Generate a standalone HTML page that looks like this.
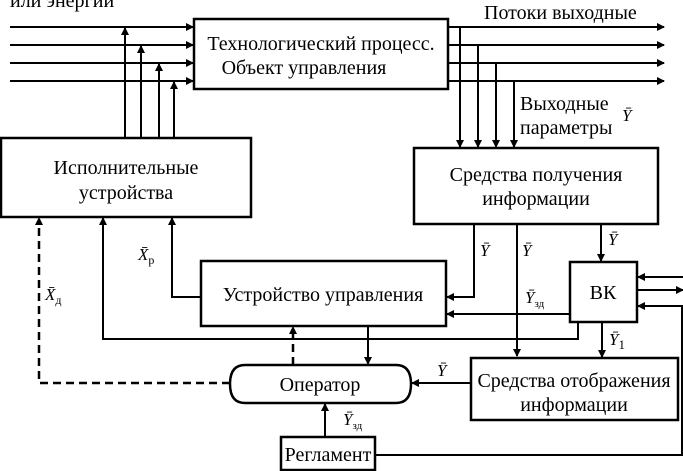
<!DOCTYPE html>
<html><head><meta charset="utf-8"><style>
html,body{margin:0;padding:0;background:#fff;}
svg{display:block;}
text{font-family:"Liberation Serif",serif;font-size:20px;fill:#000;}
.s{font-size:17px;font-style:italic;}
</style></head><body>
<svg width="683" height="471" viewBox="0 0 683 471">
<defs><marker id="a" markerWidth="8" markerHeight="8" refX="7" refY="4" orient="auto" markerUnits="userSpaceOnUse"><path d="M0,0 L8,4 L0,8 z" fill="#000"/></marker></defs>
<g stroke="#000" stroke-width="2.5" fill="none">
<rect x="194" y="19" width="254" height="70"/>
<rect x="1" y="138" width="250" height="79"/>
<rect x="414" y="148" width="244" height="76"/>
<rect x="201" y="261" width="245" height="65"/>
<rect x="570" y="262" width="67" height="60"/>
<rect x="471" y="358" width="207" height="62"/>
<rect x="281" y="437" width="94" height="33"/>
<path d="M245,365 H396 Q411,365 411,384 Q411,403 396,403 H245 Q230,403 230,384 Q230,365 245,365 Z"/>
</g>
<g stroke="#000" stroke-width="2" fill="none" marker-end="url(#a)">
<line x1="10" y1="27" x2="193" y2="27"/>
<line x1="10" y1="45" x2="193" y2="45"/>
<line x1="10" y1="63" x2="193" y2="63"/>
<line x1="10" y1="81" x2="193" y2="81"/>
<line x1="125" y1="138" x2="125" y2="28"/>
<line x1="141" y1="138" x2="141" y2="46"/>
<line x1="159" y1="138" x2="159" y2="64"/>
<line x1="174" y1="138" x2="174" y2="82"/>
<line x1="448" y1="27" x2="664" y2="27"/>
<line x1="448" y1="45" x2="664" y2="45"/>
<line x1="448" y1="63" x2="664" y2="63"/>
<line x1="448" y1="81" x2="664" y2="81"/>
<polyline points="460,27 460,147"/>
<polyline points="478,45 478,147"/>
<polyline points="496,63 496,147"/>
<polyline points="514,81 514,147"/>
<polyline points="474,224 474,297 447,297"/>
<polyline points="517,224 517,356"/>
<polyline points="601,224 601,261"/>
<polyline points="570,314 447,314"/>
<polyline points="683,277 638,277"/>
<polyline points="637,290 683,290"/>
<polyline points="375,455 682,455 682,306 638,306"/>
<polyline points="578,322 578,339 103,339 103,218"/>
<polyline points="602,322 602,357"/>
<polyline points="201,297 172,297 172,218"/>
<polyline points="368,326 368,364"/>
<polyline points="471,383 412,383"/>
<polyline points="325,437 325,404"/>
</g>
<g stroke="#000" stroke-width="2.5" fill="none" stroke-dasharray="8,5">
<polyline points="230,383 39,383 39,222"/>
<polyline points="293,365 293,331"/>
</g>
<path d="M35,225 L39,217 L43,225 z M289,334 L293,326 L297,334 z" fill="#000"/>
<text x="10" y="7">или энергии</text>
<text x="484" y="19">Потоки выходные</text>
<text x="321" y="50" text-anchor="middle">Технологический процесс.</text>
<text x="304" y="74" text-anchor="middle">Объект управления</text>
<text x="520" y="110">Выходные</text>
<text x="520" y="134">параметры</text>
<text x="622" y="121" class="s">Ȳ</text>
<text x="126" y="174" text-anchor="middle">Исполнительные</text>
<text x="126" y="199" text-anchor="middle">устройства</text>
<text x="536" y="181" text-anchor="middle">Средства получения</text>
<text x="536" y="205" text-anchor="middle">информации</text>
<text x="323" y="301" text-anchor="middle">Устройство управления</text>
<text x="603" y="299" text-anchor="middle">ВК</text>
<text x="574" y="387" text-anchor="middle">Средства отображения</text>
<text x="574" y="411" text-anchor="middle">информации</text>
<text x="320" y="391" text-anchor="middle">Оператор</text>
<text x="328" y="461" text-anchor="middle">Регламент</text>
<text x="480" y="256" class="s">Ȳ</text>
<text x="522" y="256" class="s">Ȳ</text>
<text x="608" y="245" class="s">Ȳ</text>
<text x="138" y="260" class="s">X̄<tspan font-size="12" font-style="normal" dy="4">р</tspan></text>
<text x="45" y="300" class="s">X̄<tspan font-size="12" font-style="normal" dy="4">д</tspan></text>
<text x="525" y="303" class="s">Ȳ<tspan font-size="11" font-style="normal" dy="4">зд</tspan></text>
<text x="609" y="345" class="s">Ȳ<tspan font-size="13" font-style="normal" dy="4">1</tspan></text>
<text x="437" y="376" class="s">Ȳ</text>
<text x="343" y="425" class="s">Ȳ<tspan font-size="11" font-style="normal" dy="4">зд</tspan></text>
</svg>
</body></html>
